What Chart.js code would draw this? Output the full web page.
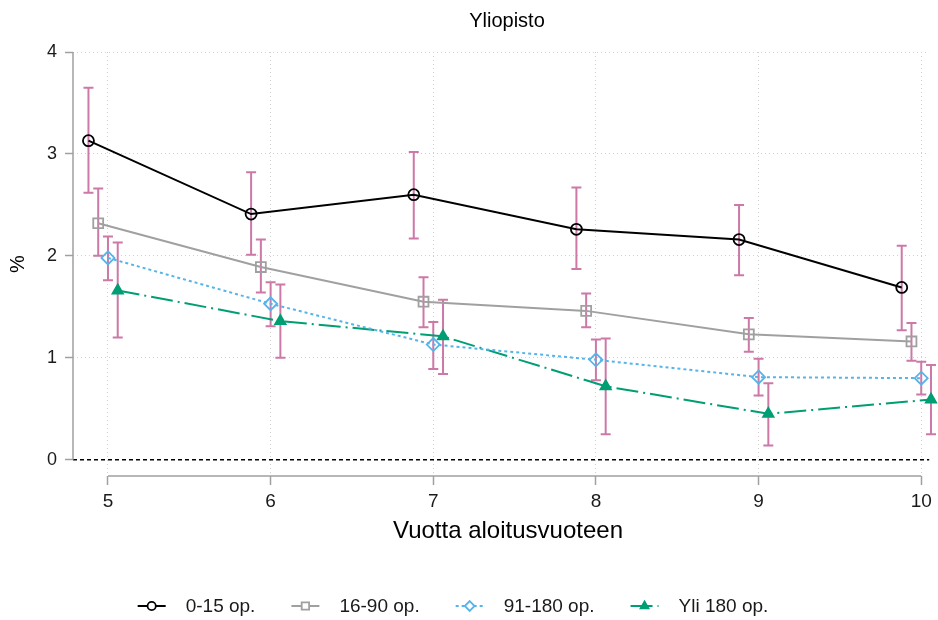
<!DOCTYPE html>
<html>
<head>
<meta charset="utf-8">
<script src="https://cdn.jsdelivr.net/npm/chart.js@4.4.1/dist/chart.umd.min.js"></script>
<style>
  html, body { margin: 0; padding: 0; background: #fff; }
</style>
</head>
<body>
<canvas id="chart" width="938" height="620"></canvas>
<script>
// --- data ---
const years = [5, 6, 7, 8, 9, 10];
const yTicks = [0, 1, 2, 3, 4];
const seriesNames = ['0-15 op.', '16-90 op.', '91-180 op.', 'Yli 180 op.'];

const mean015 = [3.13, 2.41, 2.60, 2.26, 2.16, 1.69];
const low015  = [2.62, 2.01, 2.17, 1.87, 1.81, 1.27];
const high015 = [3.65, 2.82, 3.02, 2.67, 2.50, 2.10];

const mean1690 = [2.32, 1.89, 1.55, 1.46, 1.23, 1.16];
const low1690  = [2.00, 1.64, 1.30, 1.30, 1.06, 0.97];
const high1690 = [2.66, 2.16, 1.79, 1.63, 1.39, 1.34];

const mean91180 = [1.98, 1.53, 1.13, 0.98, 0.81, 0.80];
const low91180  = [1.76, 1.31, 0.89, 0.78, 0.63, 0.64];
const high91180 = [2.19, 1.74, 1.35, 1.18, 0.99, 0.96];

const meanYli = [1.66, 1.36, 1.21, 0.72, 0.45, 0.59];
const lowYli  = [1.20, 1.00, 0.84, 0.25, 0.14, 0.25];
const highYli = [2.13, 1.72, 1.57, 1.19, 0.75, 0.93];

const means = [mean015, mean1690, mean91180, meanYli];
const lows = [low015, low1690, low91180, lowYli];
const highs = [high015, high1690, high91180, highYli];

// --- styles ---
const dodge = [-0.12, -0.06, 0, 0.06]; // sivuttaissiirto sarjoittain
const colors = ['#000000', '#a0a0a0', '#56b4e9', '#009e73'];
const dashes = [[], [], [3, 3], [22, 5, 2, 5]];
const pointStyles = ['circle', 'rect', 'rectRot', 'triangle'];
const pointRadii = [5.5, 7, 6.5, 6];
const pointFills = ['rgba(0,0,0,0)', 'rgba(0,0,0,0)', 'rgba(0,0,0,0)', '#009e73'];
const ciColor = '#cc79a7';
const axisColor = '#a0a0a0';
const gridColor = '#d0d0d0';
const fontFamily = "'Liberation Sans', Arial, sans-serif";

Chart.defaults.font.family = fontFamily;
Chart.defaults.color = '#1a1a1a';

function drawMarker(ctx, style, x, y, r, color, fill) {
    ctx.save();
    ctx.strokeStyle = color;
    ctx.fillStyle = fill;
    ctx.lineWidth = 1.8;
    ctx.setLineDash([]);
    ctx.beginPath();
    if (style === 'circle') {
        ctx.arc(x, y, r, 0, Math.PI * 2);
    } else if (style === 'rect') {
        const s = r * Math.SQRT1_2;
        ctx.rect(x - s, y - s, 2 * s, 2 * s);
    } else if (style === 'rectRot') {
        ctx.moveTo(x, y - r); ctx.lineTo(x + r, y); ctx.lineTo(x, y + r); ctx.lineTo(x - r, y);
        ctx.closePath();
    } else {
        const h = r * 1.5;
        ctx.moveTo(x, y - h * 2 / 3); ctx.lineTo(x + r * 0.87, y + h / 3); ctx.lineTo(x - r * 0.87, y + h / 3);
        ctx.closePath();
    }
    ctx.fill();
    ctx.stroke();
    ctx.restore();
}

const extras = {
    id: 'extras',
    beforeDatasetsDraw(chart) {
        const { ctx, chartArea, scales: { x, y } } = chart;
        ctx.save();
        // nollaviiva
        ctx.strokeStyle = '#000';
        ctx.lineWidth = 1.5;
        ctx.setLineDash([4, 3]);
        ctx.beginPath();
        ctx.moveTo(chartArea.left, y.getPixelForValue(0));
        ctx.lineTo(chartArea.right, y.getPixelForValue(0));
        ctx.stroke();
        ctx.setLineDash([]);

        // akselit
        ctx.strokeStyle = axisColor;
        ctx.lineWidth = 1.5;
        ctx.beginPath();
        ctx.moveTo(chartArea.left, y.getPixelForValue(yTicks[0]));
        ctx.lineTo(chartArea.left, y.getPixelForValue(yTicks[yTicks.length - 1]));
        ctx.moveTo(x.getPixelForValue(years[0]), chartArea.bottom);
        ctx.lineTo(x.getPixelForValue(years[years.length - 1]), chartArea.bottom);
        ctx.stroke();

        // luottamusvälit
        ctx.strokeStyle = ciColor;
        ctx.lineWidth = 2;
        const cap = 5;
        means.forEach((_, i) => {
            years.forEach((yr, j) => {
                const px = x.getPixelForValue(yr + dodge[i]);
                const top = y.getPixelForValue(highs[i][j]);
                const bot = y.getPixelForValue(lows[i][j]);
                ctx.beginPath();
                ctx.moveTo(px, top); ctx.lineTo(px, bot);
                ctx.moveTo(px - cap, top); ctx.lineTo(px + cap, top);
                ctx.moveTo(px - cap, bot); ctx.lineTo(px + cap, bot);
                ctx.stroke();
            });
        });
        ctx.restore();
    },
    afterDraw(chart) {
        const { ctx, chartArea } = chart;
        ctx.save();
        // otsikot
        ctx.fillStyle = '#000';
        ctx.font = '20px ' + fontFamily;
        ctx.textAlign = 'center';
        ctx.textBaseline = 'middle';
        ctx.fillText('Yliopisto', 507, 21);
        ctx.font = '24px ' + fontFamily;
        ctx.fillText('Vuotta aloitusvuoteen', 508, chartArea.bottom + 55);

        // selite
        ctx.font = '19px ' + fontFamily;
        ctx.textAlign = 'left';
        const symW = 28, symGap = 20, itemGap = 36, ly = 606;
        let total = 0;
        seriesNames.forEach((n, i) => {
            total += symW + symGap + ctx.measureText(n).width + (i < seriesNames.length - 1 ? itemGap : 0);
        });
        let lx = 453 - total / 2;
        seriesNames.forEach((n, i) => {
            ctx.strokeStyle = colors[i];
            ctx.lineWidth = 2;
            ctx.setLineDash(dashes[i]);
            ctx.beginPath();
            ctx.moveTo(lx, ly); ctx.lineTo(lx + symW, ly);
            ctx.stroke();
            ctx.setLineDash([]);
            drawMarker(ctx, pointStyles[i], lx + symW / 2, ly, pointRadii[i] * 0.75, colors[i], i === 3 ? colors[i] : '#fff');
            ctx.fillStyle = '#1a1a1a';
            ctx.fillText(n, lx + symW + symGap, ly + 1);
            lx += symW + symGap + ctx.measureText(n).width + itemGap;
        });
        ctx.restore();
    }
};

new Chart(document.getElementById('chart'), {
    type: 'line',
    data: {
        datasets: seriesNames.map((name, i) => ({
            label: name,
            data: years.map((yr, j) => ({ x: yr + dodge[i], y: means[i][j] })),
            clip: false,
            borderColor: colors[i],
            borderWidth: 2,
            borderDash: dashes[i],
            tension: 0,
            fill: false,
            pointStyle: pointStyles[i],
            pointRadius: pointRadii[i],
            pointBorderWidth: 1.8,
            pointBorderColor: colors[i],
            pointBackgroundColor: pointFills[i]
        }))
    },
    options: {
        responsive: false,
        animation: false,
        events: [],
        layout: { padding: { top: 52, right: 3, bottom: 74, left: 0 } },
        plugins: {
            legend: { display: false },
            tooltip: { enabled: false }
        },
        scales: {
            x: {
                type: 'linear',
                min: 4.785,
                max: 10.049,
                afterBuildTicks: (scale) => { scale.ticks = years.map(v => ({ value: v })); },
                afterFit: (scale) => { scale.height = 70; },
                border: { display: false, dash: [1, 3] },
                grid: { color: gridColor, lineWidth: 1, tickLength: 9, tickColor: axisColor, tickWidth: 1.5 },
                ticks: { font: { size: 19 }, padding: 5, maxRotation: 0, autoSkip: false, color: '#1a1a1a' },
                title: { display: false }
            },
            y: {
                min: -0.16,
                max: 4,
                afterBuildTicks: (scale) => { scale.ticks = yTicks.map(v => ({ value: v })); },
                afterFit: (scale) => { scale.width = 73; },
                border: { display: false, dash: [1, 3] },
                grid: {
                    color: (c) => (c.tick && c.tick.value === 0 ? 'rgba(0,0,0,0)' : gridColor),
                    lineWidth: 1, tickLength: 8, tickColor: axisColor, tickWidth: 1.5
                },
                ticks: { font: { size: 18 }, padding: 8, color: '#1a1a1a' },
                title: { display: true, text: '%', font: { size: 20 }, padding: { top: 6, bottom: 0 }, color: '#000' }
            }
        }
    },
    plugins: [extras]
});
</script>
</body>
</html>
